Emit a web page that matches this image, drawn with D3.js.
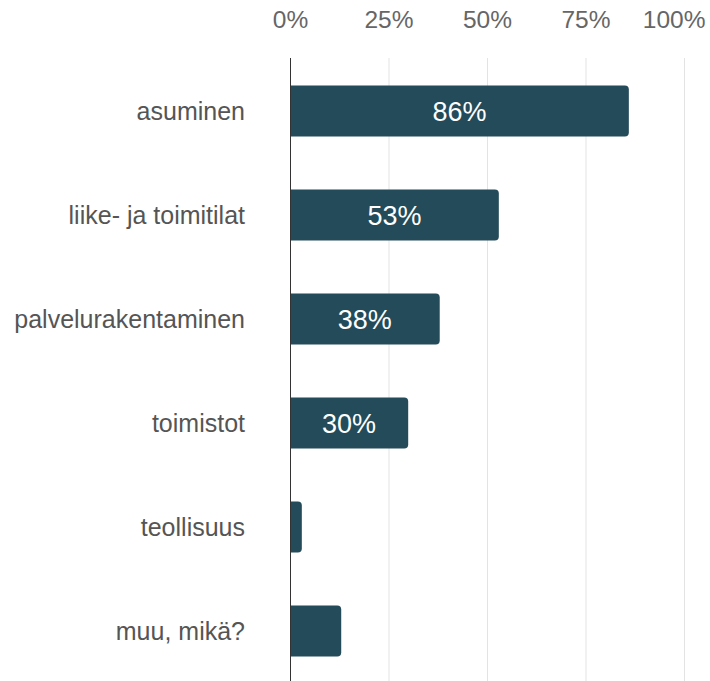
<!DOCTYPE html>
<html>
<head>
<meta charset="utf-8">
<script src="https://cdn.jsdelivr.net/npm/d3@7"></script>
<style>
  body { margin: 0; background: #fff; }
  text { font-family: "Liberation Sans", Arial, sans-serif; }
</style>
</head>
<body>
<div id="chart"></div>
<script>
var categories = ["asuminen", "liike- ja toimitilat", "palvelurakentaminen", "toimistot", "teollisuus", "muu, mikä?"];
var values = [86, 53, 38, 30, 3, 13];
var labels = ["86%", "53%", "38%", "30%", "", ""];
var tickValues = [0, 25, 50, 75, 100];

var width = 710, height = 681;

var svg = d3.select("#chart")
    .append("svg")
    .attr("width", width)
    .attr("height", height);

var x = d3.scaleLinear().domain([0, 100]).range([290, 684]);
var y = d3.scaleBand()
    .domain(categories)
    .range([59, 683])
    .paddingInner(0.51)
    .paddingOuter(0.255);

// gridlines
svg.append("g")
    .selectAll("line")
    .data(tickValues.slice(1))
    .join("line")
    .attr("x1", d => x(d) + 0.5)
    .attr("x2", d => x(d) + 0.5)
    .attr("y1", 58)
    .attr("y2", height)
    .attr("stroke", "#e3e3e3")
    .attr("stroke-width", 1);

// top tick labels
var xAxis = svg.append("g")
    .attr("transform", "translate(0,28)")
    .call(d3.axisTop(x).tickValues(tickValues).tickFormat(d => d + "%").tickSize(0).tickPadding(0));
xAxis.select(".domain").remove();
xAxis.selectAll("text")
    .attr("fill", "#666")
    .style("font-size", "24.5px");

// keep the last label inside the window
xAxis.selectAll(".tick")
    .filter(d => d === 100)
    .select("text")
    .attr("text-anchor", "end")
    .attr("x", width - 5 - x(100));

// bars
var bar = svg.append("g")
    .selectAll("g")
    .data(categories)
    .join("g");

bar.append("path")
    .attr("fill", "#234b59")
    .attr("d", function(d, i) {
        var x0 = x(0), x1 = x(values[i]), y0 = y(d), h = y.bandwidth();
        var r = Math.min(4, (x1 - x0) / 2);
        return "M" + x0 + "," + y0 +
            "H" + (x1 - r) +
            "Q" + x1 + "," + y0 + " " + x1 + "," + (y0 + r) +
            "V" + (y0 + h - r) +
            "Q" + x1 + "," + (y0 + h) + " " + (x1 - r) + "," + (y0 + h) +
            "H" + x0 + "Z";
    });

bar.append("text")
    .attr("x", (d, i) => (x(0) + x(values[i])) / 2)
    .attr("y", d => y(d) + y.bandwidth() / 2)
    .attr("dy", "0.36em")
    .attr("text-anchor", "middle")
    .attr("fill", "#fff")
    .style("font-size", "27px")
    .text((d, i) => labels[i]);

// category labels
svg.append("g")
    .selectAll("text")
    .data(categories)
    .join("text")
    .attr("x", 245)
    .attr("y", d => y(d) + y.bandwidth() / 2)
    .attr("dy", "0.36em")
    .attr("text-anchor", "end")
    .attr("fill", "#555")
    .style("font-size", "25px")
    .text(d => d);

// zero axis line
svg.append("line")
    .attr("x1", x(0) + 0.5)
    .attr("x2", x(0) + 0.5)
    .attr("y1", 58)
    .attr("y2", height)
    .attr("stroke", "#333")
    .attr("stroke-width", 1);
</script>
</body>
</html>
